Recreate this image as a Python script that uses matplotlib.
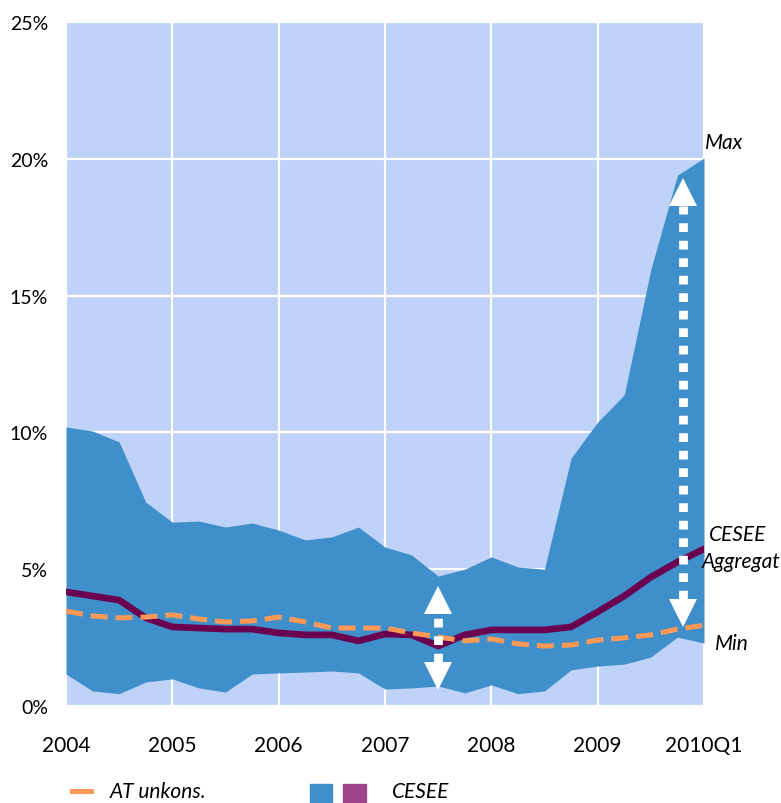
import matplotlib
matplotlib.use('Agg')
from matplotlib import pyplot as plt
from matplotlib.lines import Line2D
from matplotlib.patches import Rectangle
import numpy as np

plt.rcParams['font.family'] = ['Lato', 'DejaVu Sans']

# quarterly 2004Q1 .. 2010Q1
QUARTERS = np.arange(25)
YEAR_TICKS = [0, 4, 8, 12, 16, 20, 24]
YEAR_LABELS = ['2004', '2005', '2006', '2007', '2008', '2009', '2010Q1']
Y_TICKS = [0, 5, 10, 15, 20, 25]
Y_LABELS = ['0%', '5%', '10%', '15%', '20%', '25%']

cesee_max = [10.2, 10.05, 9.65, 7.45, 6.72, 6.76, 6.54, 6.69, 6.43, 6.07, 6.18, 6.54,
             5.81, 5.52, 4.75, 5.0, 5.45, 5.08, 5.0, 9.06, 10.38, 11.37, 15.95, 19.4, 20.03]
cesee_min = [1.17, 0.55, 0.45, 0.88, 0.99, 0.66, 0.51, 1.17, 1.21, 1.24, 1.28, 1.21,
             0.62, 0.66, 0.73, 0.48, 0.77, 0.45, 0.55, 1.32, 1.46, 1.53, 1.79, 2.52, 2.30]
cesee_aggr = [4.17, 4.02, 3.87, 3.22, 2.89, 2.85, 2.81, 2.81, 2.67, 2.6, 2.6, 2.38,
              2.63, 2.6, 2.19, 2.6, 2.78, 2.78, 2.78, 2.89, 3.44, 4.02, 4.71, 5.26, 5.74]
at_unkons = [3.47, 3.29, 3.22, 3.25, 3.33, 3.18, 3.07, 3.11, 3.25, 3.07, 2.85, 2.85,
             2.85, 2.67, 2.52, 2.38, 2.45, 2.27, 2.19, 2.23, 2.41, 2.49, 2.6, 2.81, 2.95]

# range arrows (x position, low tip, high tip)
arrows = [(14, 0.62, 4.35), (23.2, 2.92, 19.26)]

LIGHT = '#BFD2F7'
BLUE = '#3F8FCB'
PURPLE = '#6A004F'
PURPLE_LEG = '#9E4389'
ORANGE = '#FF9955'

W, H = 781, 804
fig = plt.figure(figsize=(W / 100, H / 100), dpi=100)
ax = fig.add_axes([66 / W, 1 - 707 / H, (704 - 66) / W, (707 - 23) / H])
ax.set_facecolor(LIGHT)
for s in ax.spines.values():
    s.set_visible(False)

ax.set_xlim(0, 24)
ax.set_ylim(0, 25)
ax.set_xticks(YEAR_TICKS)
ax.set_xticklabels(YEAR_LABELS, fontsize=15)
ax.set_yticks(Y_TICKS)
ax.set_yticklabels(Y_LABELS, fontsize=14)
ax.tick_params(axis='both', length=0)
ax.tick_params(axis='x', pad=21)
ax.tick_params(axis='y', pad=13)
ax.grid(True, color='white', linewidth=1.6)
ax.set_axisbelow(True)

ax.fill_between(QUARTERS, cesee_min, cesee_max, color=BLUE, linewidth=0, zorder=2)
ax.plot(QUARTERS, at_unkons, color=ORANGE, linewidth=3.6, dashes=(3.4, 1.6), zorder=4)
ax.plot(QUARTERS, cesee_aggr, color=PURPLE, linewidth=4.8, zorder=3)

for xa, lo, hi in arrows:
    ax.plot([xa, xa], [lo + 1.0, hi - 1.0], color='white', linewidth=6.3,
            dashes=(1, 1), solid_capstyle='butt', dash_capstyle='butt', zorder=5)
    ax.plot([xa], [hi - 0.48], marker='^', markersize=19.5, color='white',
            markeredgewidth=0, zorder=5)
    ax.plot([xa], [lo + 0.48], marker='v', markersize=19.5, color='white',
            markeredgewidth=0, zorder=5)

ax.text(24.05, 20.25, 'Max', fontsize=15, style='italic', ha='left', va='bottom')
ax.text(24.2, 6.3, 'CESEE', fontsize=15, style='italic', ha='left', va='center')
ax.text(23.9, 5.3, 'Aggregat', fontsize=15, style='italic', ha='left', va='center')
ax.text(24.4, 2.3, 'Min', fontsize=15, style='italic', ha='left', va='center')

# legend at the bottom edge
fig.add_artist(Line2D([72 / W, 91 / W], [1 - 792 / H, 1 - 792 / H],
                      color=ORANGE, linewidth=3.6, transform=fig.transFigure))
fig.text(110 / W, 2 / H, 'AT unkons.', fontsize=15, style='italic',
         ha='left', va='bottom')
fig.add_artist(Rectangle((310 / W, 0), 22 / W, 19 / H, color=BLUE,
                         transform=fig.transFigure))
fig.add_artist(Rectangle((343 / W, 0), 23 / W, 19 / H, color=PURPLE_LEG,
                         transform=fig.transFigure))
fig.text(392 / W, 2 / H, 'CESEE', fontsize=15, style='italic',
         ha='left', va='bottom')

fig.savefig('out.png', dpi=100)
